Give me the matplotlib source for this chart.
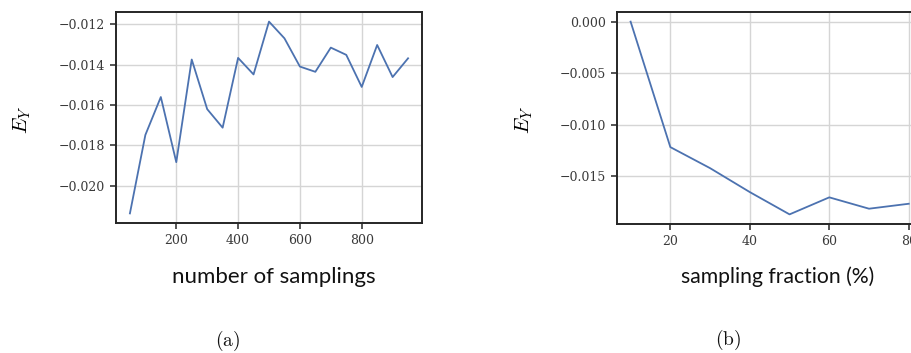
import matplotlib
matplotlib.use("Agg")
import matplotlib.pyplot as plt

# (a) E_Y vs number of samplings
n_samplings = [50, 100, 150, 200, 250, 300, 350, 400, 450, 500,
               550, 600, 650, 700, 750, 800, 850, 900, 950]
ey_samplings = [-0.02138, -0.01749, -0.01561, -0.01884, -0.01375, -0.01621,
                -0.01713, -0.01367, -0.01449, -0.01187, -0.01270, -0.01410,
                -0.01436, -0.01316, -0.01352, -0.01511, -0.01303, -0.01462,
                -0.01369]

# (b) E_Y vs sampling fraction
fraction = [10, 20, 30, 40, 50, 60, 70, 80]
ey_fraction = [0.0, -0.01216, -0.01420, -0.01652, -0.01868, -0.01703,
               -0.01813, -0.01765]

yticks_a = [-0.020, -0.018, -0.016, -0.014, -0.012]
xticks_a = [200, 400, 600, 800]
yticks_b = [-0.015, -0.010, -0.005, 0.000]
xticks_b = [20, 40, 60, 80]

plt.rcParams['mathtext.fontset'] = 'cm'
plt.rcParams['font.family'] = 'DejaVu Serif'

line_color = '#4c72b0'
spine_color = '#262626'
tick_color = '#3a3a3a'

fig = plt.figure(figsize=(9.12, 3.53), dpi=100)
ax_a = fig.add_axes([0.1272, 0.3683, 0.3355, 0.5977])
ax_b = fig.add_axes([0.6762, 0.3654, 0.3355, 0.6006])


def style_axis(ax, xticks, yticks, fmt, label_x):
    ax.set_xticks(xticks)
    ax.set_yticks(yticks)
    ax.set_yticklabels([fmt.format(v).replace('-', '\u2212') for v in yticks])
    ax.grid(True, color='#d5d5d5', linewidth=1.0)
    ax.set_axisbelow(True)
    for s in ax.spines.values():
        s.set_color(spine_color)
        s.set_linewidth(1.4)
    ax.tick_params(axis='both', direction='out', length=4.5, width=1.1,
                   color=spine_color, labelcolor=tick_color, labelsize=9)
    ax.set_ylabel(r'$E_Y$', fontsize=15, rotation=90)
    ax.yaxis.set_label_coords(label_x, 0.49)


ax_a.plot(n_samplings, ey_samplings, color=line_color, linewidth=1.3)
style_axis(ax_a, xticks_a, yticks_a, '{:.3f}', -0.271)

ax_b.plot(fraction, ey_fraction, color=line_color, linewidth=1.3)
style_axis(ax_b, xticks_b, yticks_b, '{:.3f}', -0.267)

# x labels and captions placed as in the paper figure
fig.text(273.5 / 912, 1 - 277 / 353, 'number of samplings', family='Lato',
         fontsize=16, ha='center', va='center', color='#111111')
fig.text(778 / 912, 1 - 277 / 353, 'sampling fraction (%)', family='Lato',
         fontsize=15.2, ha='center', va='center', color='#111111')
fig.text(228 / 912, 1 - 341 / 353, r'$\mathrm{(a)}$', fontsize=14,
         ha='center', va='center', color='#111111')
fig.text(728.5 / 912, 1 - 340 / 353, r'$\mathrm{(b)}$', fontsize=14,
         ha='center', va='center', color='#111111')

fig.savefig('out.png', dpi=100)
